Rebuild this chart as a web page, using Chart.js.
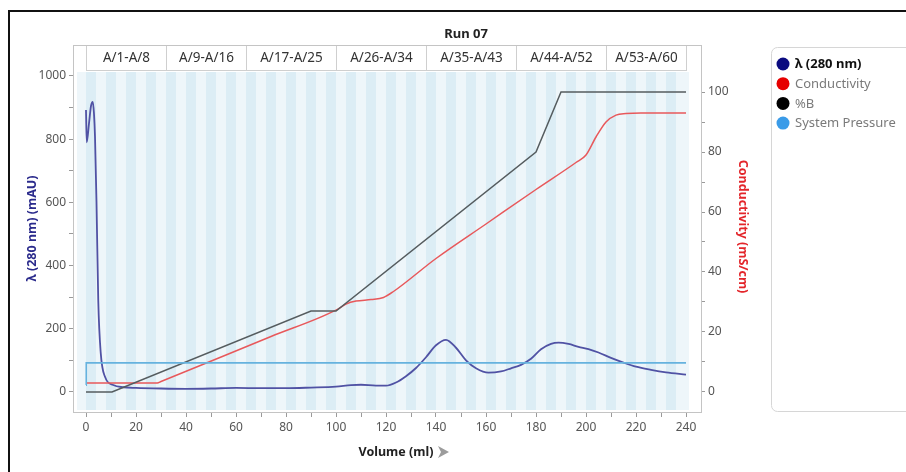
<!DOCTYPE html>
<html>
<head>
<meta charset="utf-8">
<script src="https://cdn.jsdelivr.net/npm/chart.js@4.4.1/dist/chart.umd.min.js"></script>
<style>
  html, body { margin: 0; padding: 0; background: #ffffff; }
  #wrap { position: relative; width: 906px; height: 472px; }
</style>
</head>
<body>
<div id="wrap"><canvas id="chart" width="906" height="472"></canvas></div>
<script>
// ---- Run 07 chromatogram data ----
const chartTitle = 'Run 07';

// Fraction groups collected along the run (volume in ml)
const fractionLabels = ['A/1-A/8', 'A/9-A/16', 'A/17-A/25', 'A/26-A/34', 'A/35-A/43', 'A/44-A/52', 'A/53-A/60'];
const fractionStarts = [0, 32, 64, 100, 136, 172, 208];
const fractionEnds   = [32, 64, 100, 136, 172, 208, 240];
const fractionCounts = [8, 8, 9, 9, 9, 9, 8];

// UV absorbance at 280 nm (mAU)
const uvVolume = [0, 0.3, 1.2, 2, 2.7, 3.2, 3.6, 4.2, 4.9, 5.9, 7.6, 10.9, 15, 20, 30, 40, 50, 60, 70, 80,
                  90, 100, 106, 110, 116, 120, 124, 128, 132, 136, 140, 144, 148, 152, 156, 161, 166, 170, 174, 178,
                  182, 186, 189, 193, 197, 201, 205, 210, 215, 220, 226, 232, 240];
const uvValues = [892, 790, 850, 905, 918, 880, 808, 600, 290, 123, 48, 22, 15, 13, 11, 10, 11, 13, 12, 12,
                  14, 17, 22, 23, 20, 20, 30, 50, 76, 110, 148, 165, 140, 100, 75, 61, 65, 75, 86, 105,
                  135, 152, 156, 152, 143, 136, 125, 108, 93, 80, 70, 62, 55];

// Conductivity (mS/cm)
const condVolume = [0, 28.5, 30, 74, 100, 104, 108, 114, 119, 123, 140, 160, 180, 196, 200, 204, 208, 212, 216, 222, 240];
const condValues = [3, 3, 3.5, 18.5, 27.3, 29.3, 30.3, 30.8, 31.5, 33.5, 44.5, 56, 67.5, 76.5, 79, 85, 90, 92.3, 92.8, 93, 93];

// Gradient %B
const bVolume = [0, 10.4, 90, 100, 180, 190, 240];
const bValues = [0, 0, 27, 27, 80, 100, 100];

// System pressure (plotted against the right-hand scale)
const pressVolume = [0, 0.1, 240];
const pressValues = [2.3, 9.7, 9.7];

// Axis ticks
const xTickValues = [0, 10, 20, 30, 40, 50, 60, 70, 80, 90, 100, 110, 120, 130, 140, 150, 160, 170, 180, 190, 200, 210, 220, 230, 240];
const xTickLabels = [0, 20, 40, 60, 80, 100, 120, 140, 160, 180, 200, 220, 240];
const uvTickValues = [0, 100, 200, 300, 400, 500, 600, 700, 800, 900, 1000];
const uvTickLabels = [0, 200, 400, 600, 800, 1000];
const condTickValues = [0, 10, 20, 30, 40, 50, 60, 70, 80, 90, 100];
const condTickLabels = [0, 20, 40, 60, 80, 100];

// Axis titles
const xTitle = 'Volume (ml)';
const uvTitle = 'λ (280 nm) (mAU)';
const condTitle = 'Conductivity (mS/cm)';

// Legend entries
const legendNames  = ['λ (280 nm)', 'Conductivity', '%B', 'System Pressure'];
const legendDots   = ['#0b0b80', '#e60000', '#000000', '#3a9be8'];

const FONT = '"Noto Sans", "Open Sans", sans-serif';
const TICK_COLOR = '#555555';
const FRAME_COLOR = '#c4c4c4';
const STRIPE_DARK = '#dcedf5';
const STRIPE_LIGHT = '#eef6fa';

const pts = (xs, ys) => xs.map((x, i) => ({ x: x, y: ys[i] }));

// Decorations: page border, fraction stripes, fraction header, titles and legend
const runDecor = {
  id: 'runDecor',
  beforeDraw(chart) {
    const ctx = chart.ctx;
    const area = chart.chartArea;
    const xs = chart.scales.x;
    ctx.save();
    ctx.fillStyle = '#ffffff';
    ctx.fillRect(0, 0, chart.width, chart.height);

    // page border (left and top edge)
    ctx.strokeStyle = '#111111';
    ctx.lineWidth = 2;
    ctx.beginPath();
    ctx.moveTo(9, chart.height + 2);
    ctx.lineTo(9, 11);
    ctx.lineTo(chart.width + 2, 11);
    ctx.stroke();

    // plot background with fraction stripes
    const headerH = 25;
    const bgL = area.left + 4, bgR = area.right - 12;
    const bgT = area.top + headerH + 2, bgB = area.bottom - 2;
    ctx.fillStyle = STRIPE_LIGHT;
    ctx.fillRect(bgL, bgT, bgR - bgL, bgB - bgT);
    let k = 0;
    fractionStarts.forEach((s, g) => {
      const w = (fractionEnds[g] - s) / fractionCounts[g];
      for (let j = 0; j < fractionCounts[g]; j++, k++) {
        const x0 = xs.getPixelForValue(s + j * w);
        const x1 = xs.getPixelForValue(s + (j + 1) * w);
        ctx.fillStyle = (k % 2 === 0) ? STRIPE_DARK : STRIPE_LIGHT;
        ctx.fillRect(x0, bgT, x1 - x0, bgB - bgT);
      }
    });

    // fraction header cells
    ctx.font = '13.5px ' + FONT;
    ctx.textAlign = 'center';
    ctx.textBaseline = 'middle';
    fractionStarts.forEach((s, g) => {
      const x0 = Math.round(xs.getPixelForValue(s)) + 0.5;
      const x1 = Math.round(xs.getPixelForValue(fractionEnds[g])) + 0.5;
      ctx.fillStyle = '#ffffff';
      ctx.fillRect(x0, area.top, x1 - x0, headerH);
      ctx.strokeStyle = '#cfcfcf';
      ctx.lineWidth = 1;
      ctx.strokeRect(x0, area.top + 0.5, x1 - x0, headerH);
      ctx.fillStyle = '#333333';
      ctx.fillText(fractionLabels[g], (x0 + x1) / 2, area.top + headerH / 2 + 1);
    });

    // frame top line
    ctx.strokeStyle = FRAME_COLOR;
    ctx.beginPath();
    ctx.moveTo(area.left, area.top + 0.5);
    ctx.lineTo(area.right, area.top + 0.5);
    ctx.stroke();
    ctx.restore();
  },
  afterDraw(chart) {
    const ctx = chart.ctx;
    const area = chart.chartArea;
    const midY = (area.top + area.bottom) / 2;
    ctx.save();
    // chart title
    ctx.font = 'bold 13px ' + FONT;
    ctx.fillStyle = '#222222';
    ctx.textAlign = 'center';
    ctx.textBaseline = 'middle';
    ctx.fillText(chartTitle, 466, 34);

    // x-axis title with arrow
    ctx.font = 'bold 12.5px ' + FONT;
    ctx.fillStyle = '#222222';
    ctx.fillText(xTitle, 396, 452);
    ctx.fillStyle = '#9c9c9c';
    ctx.beginPath();
    ctx.moveTo(438, 446);
    ctx.lineTo(449, 452);
    ctx.lineTo(438, 458);
    ctx.lineTo(441, 452);
    ctx.closePath();
    ctx.fill();

    // y-axis titles
    ctx.font = 'bold 12.5px ' + FONT;
    ctx.save();
    ctx.translate(32, midY);
    ctx.rotate(-Math.PI / 2);
    ctx.fillStyle = '#2b2b8c';
    ctx.fillText(uvTitle, 0, 0);
    ctx.restore();
    ctx.save();
    ctx.translate(743, midY - 2);
    ctx.rotate(Math.PI / 2);
    ctx.fillStyle = '#e3262b';
    ctx.fillText(condTitle, 0, 0);
    ctx.restore();

    // legend box
    ctx.strokeStyle = '#d6d6d6';
    ctx.lineWidth = 1;
    ctx.beginPath();
    ctx.roundRect(771.5, 47.5, 150, 364, 6);
    ctx.stroke();
    ctx.textAlign = 'left';
    legendNames.forEach((name, i) => {
      const y = 64 + i * 19.7;
      ctx.fillStyle = legendDots[i];
      ctx.beginPath();
      ctx.arc(783, y, 6.5, 0, Math.PI * 2);
      ctx.fill();
      ctx.font = (i === 0 ? 'bold ' : '') + '13px ' + FONT;
      ctx.fillStyle = i === 0 ? '#111111' : '#7a7a7a';
      ctx.fillText(name, 795, y + 0.5);
    });
    ctx.restore();
  }
};

const setTicks = (values) => (scale) => { scale.ticks = values.map(v => ({ value: v })); };
const labelIf = (labels) => (value) => labels.includes(value) ? String(value) : '';

new Chart(document.getElementById('chart'), {
  type: 'line',
  data: {
    datasets: [
      { label: 'System Pressure', data: pts(pressVolume, pressValues), yAxisID: 'yCond',
        borderColor: '#66b2de', borderWidth: 1.6, tension: 0 },
      { label: '%B', data: pts(bVolume, bValues), yAxisID: 'yCond',
        borderColor: '#555c5f', borderWidth: 1.5, tension: 0 },
      { label: 'Conductivity', data: pts(condVolume, condValues), yAxisID: 'yCond',
        borderColor: '#e8585b', borderWidth: 1.5, cubicInterpolationMode: 'monotone' },
      { label: 'λ (280 nm)', data: pts(uvVolume, uvValues), yAxisID: 'yUV',
        borderColor: '#5052a4', borderWidth: 1.8, cubicInterpolationMode: 'monotone' }
    ]
  },
  options: {
    responsive: false,
    animation: false,
    devicePixelRatio: 1,
    elements: { point: { radius: 0, hoverRadius: 0 } },
    layout: { padding: { left: 0, right: 145, top: 45, bottom: 0 } },
    plugins: { legend: { display: false }, title: { display: false }, tooltip: { enabled: false } },
    scales: {
      x: {
        type: 'linear', position: 'bottom', min: -5.2, max: 246,
        afterBuildTicks: setTicks(xTickValues),
        afterFit: (s) => { s.height = 60; },
        grid: { drawOnChartArea: false, drawTicks: true, tickLength: 5, color: '#9a9a9a' },
        border: { display: true, color: FRAME_COLOR },
        ticks: { callback: labelIf(xTickLabels), autoSkip: false, maxRotation: 0, padding: 3,
                 color: TICK_COLOR, font: { family: FONT, size: 12 } }
      },
      yUV: {
        type: 'linear', position: 'left', min: -63.3, max: 1098,
        afterBuildTicks: setTicks(uvTickValues),
        afterFit: (s) => { s.width = 73; },
        grid: { drawOnChartArea: false, drawTicks: true, tickLength: 4, color: '#9a9a9a' },
        border: { display: true, color: FRAME_COLOR },
        ticks: { callback: labelIf(uvTickLabels), autoSkip: false, padding: 3,
                 color: TICK_COLOR, font: { family: FONT, size: 12 } }
      },
      yCond: {
        type: 'linear', position: 'right', min: -6.67, max: 115.67,
        afterBuildTicks: setTicks(condTickValues),
        afterFit: (s) => { s.width = 60; },
        grid: { drawOnChartArea: false, drawTicks: true, tickLength: 4, color: '#9a9a9a' },
        border: { display: true, color: FRAME_COLOR },
        ticks: { callback: labelIf(condTickLabels), autoSkip: false, padding: 3,
                 color: TICK_COLOR, font: { family: FONT, size: 12 } }
      }
    }
  },
  plugins: [runDecor]
});
</script>
</body>
</html>
